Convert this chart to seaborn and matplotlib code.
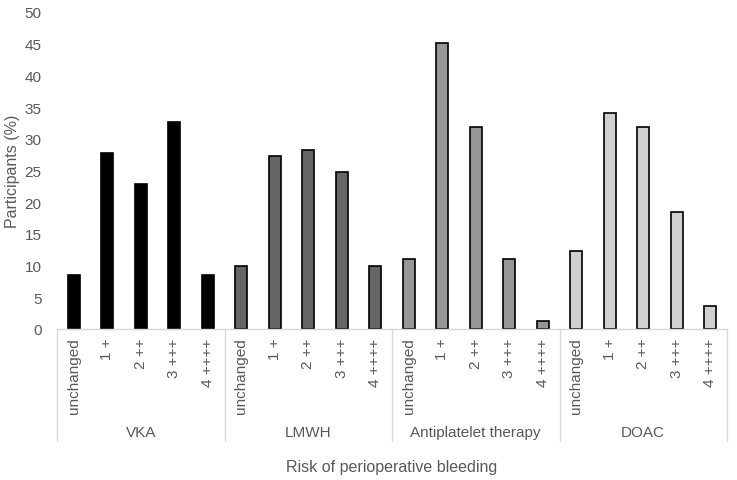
import pandas as pd
import seaborn as sns
import matplotlib.pyplot as plt
import matplotlib.transforms as mtransforms

# Data
groups = ['VKA', 'LMWH', 'Antiplatelet therapy', 'DOAC']
levels = ['unchanged', '1 +', '2 ++', '3 +++', '4 ++++']
vka = [8.5, 27.8, 22.9, 32.6, 8.5]
lmwh = [10.0, 27.3, 28.3, 24.7, 10.0]
antiplatelet = [11.0, 45.1, 31.8, 11.0, 1.3]
doac = [12.3, 34.1, 31.8, 18.4, 3.6]
colors = ['#000000', '#666666', '#969696', '#d0d0d0']

rows = []
for g, vals in zip(groups, [vka, lmwh, antiplatelet, doac]):
    for lev, v in zip(levels, vals):
        rows.append({'key': g + '|' + lev, 'level': lev, 'group': g, 'value': v})
df = pd.DataFrame(rows)

sns.set_style('white')
plt.rcParams['font.family'] = ['Liberation Sans', 'DejaVu Sans']
text_color = '#595959'

fig = plt.figure(figsize=(7.37, 4.81), dpi=100)
ax = fig.add_axes([57 / 737, 151 / 481, 670 / 737, 317 / 481])

sns.barplot(data=df, x='key', y='value', hue='group', order=df['key'],
            hue_order=groups, palette=colors, dodge=False, width=0.36,
            edgecolor='black', linewidth=1.2, legend=False, ax=ax)

ax.set_xlim(-0.5, len(df) - 0.5)
ax.set_ylim(0, 50)
ax.set_yticks(range(0, 51, 5))
ax.tick_params(axis='y', length=0, labelsize=11, labelcolor=text_color, pad=11)
ax.set_xticks(range(len(df)))
ax.set_xticklabels(df['level'], rotation=90, fontsize=11, color=text_color, va='top')
ax.tick_params(axis='x', length=0, pad=6)

for side in ['top', 'right', 'left']:
    ax.spines[side].set_visible(False)
ax.spines['bottom'].set_color('#d9d9d9')
ax.spines['bottom'].set_linewidth(1.0)

ax.set_ylabel('')
ax.set_xlabel('')

# Group separators and labels below the tick labels
trans = mtransforms.blended_transform_factory(ax.transData, ax.transAxes)
n = len(levels)
for i in range(len(groups) + 1):
    xpos = i * n - 0.5
    ax.plot([xpos, xpos], [0, -112 / 317], transform=trans, color='#d9d9d9',
            lw=1.0, clip_on=False)
for i, g in enumerate(groups):
    ax.text(i * n + (n - 1) / 2, -103 / 317, g, transform=trans, ha='center',
            va='center', fontsize=11, color=text_color)

fig.text(13 / 737, 1 - 171 / 481, 'Participants (%)', rotation=90, ha='center',
         va='center', fontsize=11.5, color=text_color)
fig.text(392 / 737, 1 - 468 / 481, 'Risk of perioperative bleeding', ha='center',
         va='center', fontsize=11.5, color=text_color)

fig.savefig('out.png', dpi=100)
